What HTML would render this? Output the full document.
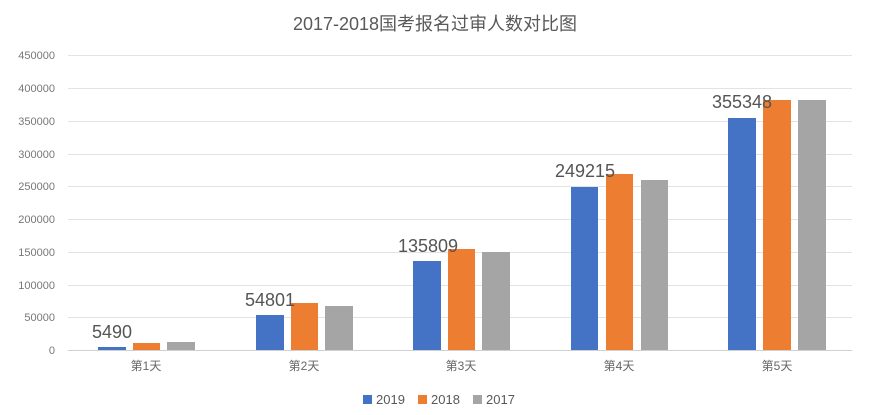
<!DOCTYPE html>
<html><head><meta charset="utf-8"><style>
body{margin:0;background:#fff;}
svg{display:block;font-family:"Liberation Sans","Noto Sans CJK SC",sans-serif;}
</style></head><body>
<svg width="870" height="415" viewBox="0 0 870 415">
<rect width="870" height="415" fill="#fff"/>
<text x="435" y="30" text-anchor="middle" font-size="18" fill="#595959">2017-2018国考报名过审人数对比图</text>
<g stroke="#e3e3e3" stroke-width="1">
<line x1="68" x2="852" y1="55.5" y2="55.5"/><line x1="68" x2="852" y1="88.5" y2="88.5"/>
<line x1="68" x2="852" y1="121.5" y2="121.5"/><line x1="68" x2="852" y1="154.5" y2="154.5"/>
<line x1="68" x2="852" y1="186.5" y2="186.5"/><line x1="68" x2="852" y1="219.5" y2="219.5"/>
<line x1="68" x2="852" y1="252.5" y2="252.5"/><line x1="68" x2="852" y1="285.5" y2="285.5"/>
<line x1="68" x2="852" y1="317.5" y2="317.5"/>
</g>
<line x1="68" x2="852" y1="350.5" y2="350.5" stroke="#d0d0d0"/>
<g font-size="11" fill="#777" text-anchor="end">
<text x="55" y="59">450000</text><text x="55" y="92">400000</text><text x="55" y="125">350000</text>
<text x="55" y="158">300000</text><text x="55" y="190">250000</text><text x="55" y="223">200000</text>
<text x="55" y="256">150000</text><text x="55" y="289">100000</text><text x="55" y="321">50000</text>
<text x="55" y="354">0</text>
</g>
<g fill="#4472c4">
<rect x="98" y="347" width="28" height="3"/><rect x="256" y="315" width="28" height="35"/>
<rect x="413" y="261" width="28" height="89"/><rect x="571" y="187" width="27" height="163"/>
<rect x="728" y="118" width="28" height="232"/>
</g>
<g fill="#ed7d31">
<rect x="133" y="343" width="27" height="7"/><rect x="291" y="303" width="27" height="47"/>
<rect x="448" y="249" width="27" height="101"/><rect x="606" y="174" width="27" height="176"/>
<rect x="763" y="100" width="28" height="250"/>
</g>
<g fill="#a5a5a5">
<rect x="167" y="342" width="28" height="8"/><rect x="325" y="306" width="28" height="44"/>
<rect x="482" y="252" width="28" height="98"/><rect x="641" y="180" width="27" height="170"/>
<rect x="798" y="100" width="28" height="250"/>
</g>
<g font-size="18" fill="#555" text-anchor="middle">
<text x="112" y="338">5490</text><text x="270" y="306">54801</text>
<text x="428" y="252">135809</text><text x="585" y="177">249215</text>
<text x="742" y="108">355348</text>
</g>
<g font-size="12" fill="#666" text-anchor="middle">
<text x="146" y="370">第1天</text><text x="304" y="370">第2天</text>
<text x="461" y="370">第3天</text><text x="619" y="370">第4天</text>
<text x="777" y="370">第5天</text>
</g>
<g font-size="13" fill="#595959">
<rect x="363" y="395" width="9" height="9" fill="#4472c4"/><text x="376" y="404">2019</text>
<rect x="418" y="395" width="9" height="9" fill="#ed7d31"/><text x="431" y="404">2018</text>
<rect x="473" y="395" width="9" height="9" fill="#a5a5a5"/><text x="486" y="404">2017</text>
</g>
</svg>
</body></html>
